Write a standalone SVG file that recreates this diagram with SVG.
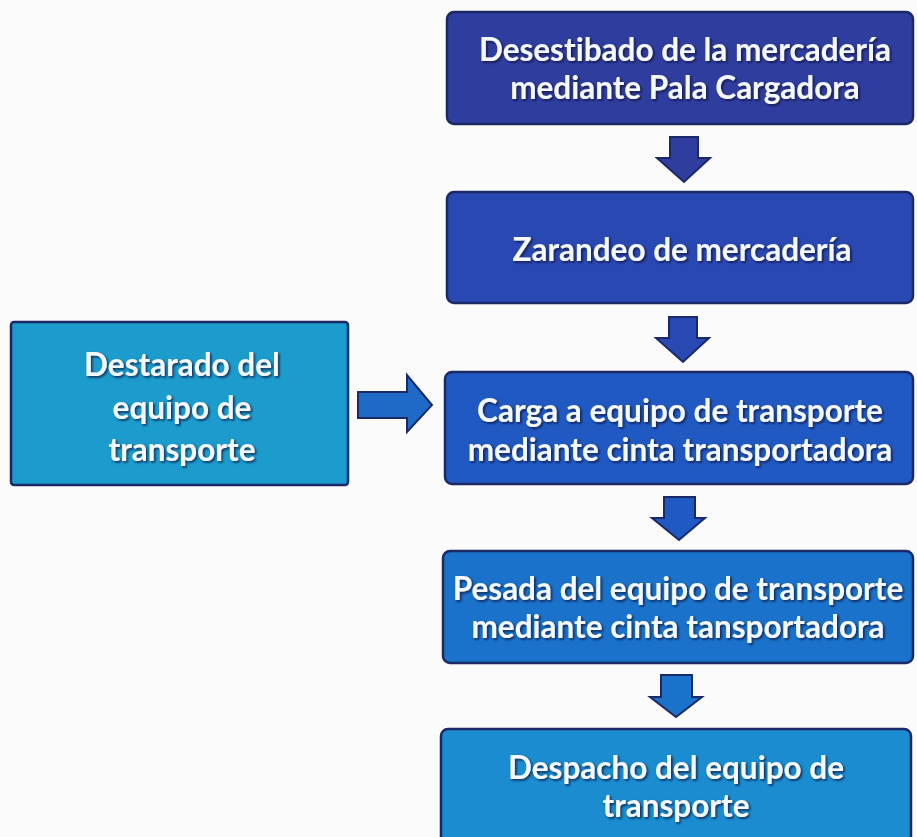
<svg xmlns="http://www.w3.org/2000/svg" width="917" height="837" viewBox="0 0 917 837">
<defs>
<filter id="sh" x="-10%" y="-20%" width="120%" height="140%">
<feDropShadow dx="1.5" dy="1.5" stdDeviation="1" flood-color="#0a1030" flood-opacity="0.8"/>
</filter>
</defs>
<style>
.box{stroke:#1b2a66;stroke-width:2.5}
.t{font-family:Lato,"Open Sans","Liberation Sans",sans-serif;font-size:31.5px;font-weight:bold;fill:#f4f8ff;text-anchor:middle;filter:url(#sh);font-variant-ligatures:none}
.arr{stroke:#1b2a66;stroke-width:2;stroke-linejoin:miter}
</style>
<rect width="917" height="837" fill="#fbfbfb"/>
<g id="n1">
<rect class="box" x="447" y="12" width="466" height="112" rx="7" fill="#2f3d9e"/>
<text class="t" x="685" y="61">Desestibado de la mercadería</text>
<text class="t" x="685" y="99">mediante Pala Cargadora</text>
</g>
<g id="n2">
<rect class="box" x="447" y="192" width="466" height="111" rx="7" fill="#2a48b2"/>
<text class="t" x="682" y="261">Zarandeo de mercadería</text>
</g>
<g id="n3">
<rect class="box" x="445" y="372" width="468" height="112" rx="7" fill="#2059c2"/>
<text class="t" x="680" y="422">Carga a equipo de transporte</text>
<text class="t" x="680" y="461">mediante cinta transportadora</text>
</g>
<g id="n4">
<rect class="box" x="443" y="551" width="470" height="112" rx="7" fill="#1a72ca"/>
<text class="t" x="678" y="600">Pesada del equipo de transporte</text>
<text class="t" x="678" y="638">mediante cinta tansportadora</text>
</g>
<g id="n5">
<rect class="box" x="441" y="729" width="470" height="114" rx="7" fill="#1a8ccf"/>
<text class="t" x="676" y="779">Despacho del equipo de</text>
<text class="t" x="676" y="817">transporte</text>
</g>
<g id="n6">
<rect class="box" x="11" y="322" width="337" height="163" rx="3" fill="#1c9bcd"/>
<text class="t" x="182" y="376">Destarado del</text>
<text class="t" x="182" y="419">equipo de</text>
<text class="t" x="182" y="461">transporte</text>
</g>
<g id="connectors">
<path class="arr" fill="#2f3d9e" d="M670 137 H698 V158 H710 L684 182 L657 158 H670 Z"/>
<path class="arr" fill="#2a48b2" d="M669 317 H697 V338 H709 L683 362 L656 338 H669 Z"/>
<path class="arr" fill="#2059c2" d="M664 497 H695 V518 H705 L679 540 L652 518 H664 Z"/>
<path class="arr" fill="#1a72ca" d="M661 675 H692 V697 H702 L676 717 L650 697 H661 Z"/>
<path class="arr" fill="#1f6ac6" d="M358 392 H407 V375 L432 405 L407 432 V418 H358 Z"/>
</g>
</svg>
